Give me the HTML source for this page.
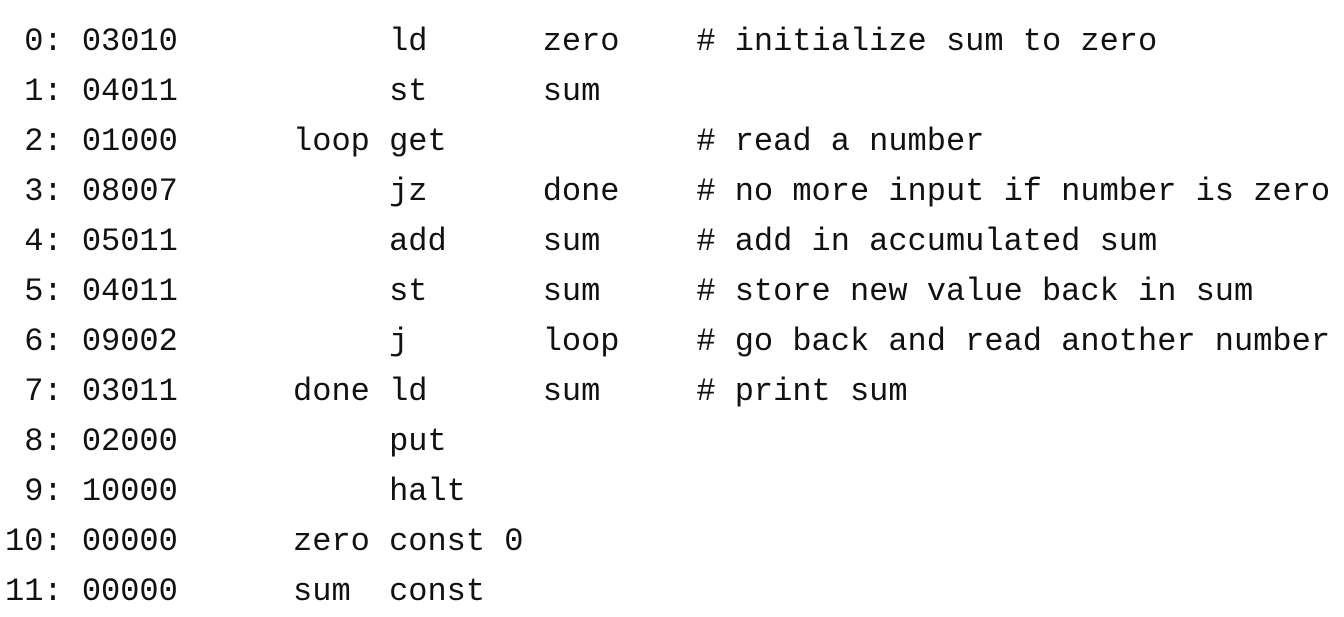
<!DOCTYPE html>
<html><head><meta charset="utf-8"><style>
html,body{margin:0;padding:0;background:#fff;width:1344px;height:616px;overflow:hidden}
pre{position:absolute;left:5px;top:17px;margin:0;font-family:"Liberation Mono",monospace;font-size:32px;line-height:50px;color:#111}
</style></head><body>
<pre> 0: 03010           ld      zero    # initialize sum to zero
 1: 04011           st      sum
 2: 01000      loop get             # read a number
 3: 08007           jz      done    # no more input if number is zero
 4: 05011           add     sum     # add in accumulated sum
 5: 04011           st      sum     # store new value back in sum
 6: 09002           j       loop    # go back and read another number
 7: 03011      done ld      sum     # print sum
 8: 02000           put
 9: 10000           halt
10: 00000      zero const 0
11: 00000      sum  const</pre>
</body></html>
